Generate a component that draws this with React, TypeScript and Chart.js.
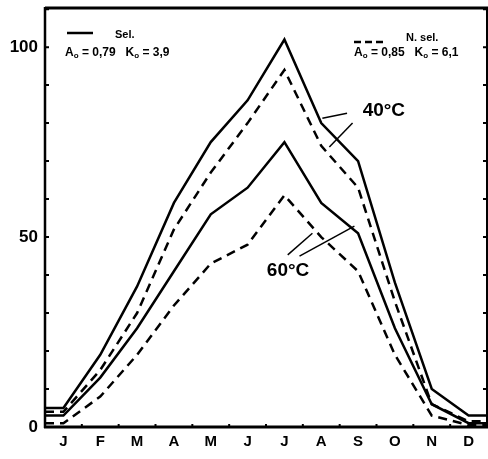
import React, { useEffect, useRef } from "react";
import { Chart, registerables } from "chart.js";
Chart.register(...registerables);

const months = ["J", "F", "M", "A", "M", "J", "J", "A", "S", "O", "N", "D"];
const sel40 = [5, 19, 37, 59, 75, 86, 102, 80, 70, 38, 10, 3];
const nsel40 = [4, 15, 30, 52, 67, 80, 94, 74, 63, 33, 6, 1.5];
const sel60 = [3, 13, 26, 41, 56, 63, 75, 59, 51, 26, 6, 1];
const nsel60 = [1, 8, 19, 32, 43, 48, 61, 50, 41, 19, 3, 0.5];
const yLabelValues = [0, 50, 100];
const yMinorStep = 10;
const yMax = 110.3;

// annotation anchors in data units [month-position, value]
const label40 = { text: "40°C", at: [9.2, 83.2] };
const leaders40 = [
  [[8.2, 82.6], [7.53, 81.3]],
  [[8.35, 80], [7.72, 73.7]],
];
const label60 = { text: "60°C", at: [6.6, 41] };
const leaders60 = [
  [[6.59, 45.3], [7.26, 51]],
  [[6.91, 45], [8.4, 52.9]],
];

const FONT = "'Liberation Sans', Arial, sans-serif";

function toPoints(vals: number[]) {
  return [
    { x: 0, y: vals[0] },
    ...vals.map((v, i) => ({ x: i + 0.5, y: v })),
    { x: 12, y: vals[vals.length - 1] },
  ];
}

const framePlugin = {
  id: "frame",
  afterDraw(chart: any) {
    const { ctx, chartArea: a, scales } = chart;
    const xs = scales.x;
    const ys = scales.y;
    ctx.save();
    ctx.strokeStyle = "#000";
    ctx.fillStyle = "#000";
    ctx.lineCap = "butt";
    // frame
    ctx.lineWidth = 3;
    ctx.beginPath();
    ctx.moveTo(a.left, a.top);
    ctx.lineTo(a.right + 2, a.top);
    ctx.moveTo(a.left - 1, a.bottom);
    ctx.lineTo(a.right + 2, a.bottom);
    ctx.stroke();
    ctx.lineWidth = 2.5;
    ctx.beginPath();
    ctx.moveTo(a.left, a.top - 1);
    ctx.lineTo(a.left, a.bottom + 1);
    ctx.stroke();
    ctx.lineWidth = 2;
    ctx.beginPath();
    ctx.moveTo(a.right, a.top);
    ctx.lineTo(a.right, a.bottom);
    ctx.stroke();
    // minor ticks
    ctx.lineWidth = 2;
    ctx.beginPath();
    for (let v = yMinorStep; v < yMax; v += yMinorStep) {
      const y = ys.getPixelForValue(v);
      ctx.moveTo(a.left, y);
      ctx.lineTo(a.left + 4, y);
      ctx.moveTo(a.right, y);
      ctx.lineTo(a.right - 4, y);
    }
    for (let m = 1; m < months.length; m++) {
      const x = xs.getPixelForValue(m);
      ctx.moveTo(x, a.bottom);
      ctx.lineTo(x, a.bottom - 3);
    }
    ctx.stroke();

    // legends
    ctx.textBaseline = "middle";
    ctx.textAlign = "left";
    const drawParam = (x: number, y: number, aVal: string, kVal: string) => {
      let cx = x;
      const part = (t: string, size: number, dy: number) => {
        ctx.font = `bold ${size}px ${FONT}`;
        ctx.fillText(t, cx, y + dy);
        cx += ctx.measureText(t).width;
      };
      part("A", 12, 0);
      part("o", 8, 3);
      part(" = " + aVal + "   K", 12, 0);
      part("o", 8, 3);
      part(" = " + kVal, 12, 0);
    };
    // left legend
    ctx.lineWidth = 2.5;
    ctx.beginPath();
    ctx.moveTo(67, 33);
    ctx.lineTo(93, 33);
    ctx.stroke();
    ctx.font = `bold 11px ${FONT}`;
    ctx.fillText("Sel.", 115, 35);
    drawParam(65, 53, "0,79", "3,9");
    // right legend
    ctx.setLineDash([7, 4]);
    ctx.beginPath();
    ctx.moveTo(354, 42);
    ctx.lineTo(383, 42);
    ctx.stroke();
    ctx.setLineDash([]);
    ctx.font = `bold 11px ${FONT}`;
    ctx.fillText("N. sel.", 406, 38);
    drawParam(354, 53, "0,85", "6,1");

    // annotations
    const px = (p: number[]) => [xs.getPixelForValue(p[0]), ys.getPixelForValue(p[1])];
    ctx.lineWidth = 1.5;
    const drawLeaders = (ls: number[][][]) => {
      for (const [p0, p1] of ls) {
        const [x0, y0] = px(p0);
        const [x1, y1] = px(p1);
        ctx.beginPath();
        ctx.moveTo(x0, y0);
        ctx.lineTo(x1, y1);
        ctx.stroke();
      }
    };
    drawLeaders(leaders40);
    drawLeaders(leaders60);
    ctx.font = `bold 19px ${FONT}`;
    ctx.textAlign = "center";
    const [lx4, ly4] = px(label40.at);
    ctx.fillText(label40.text, lx4, ly4);
    const [lx6, ly6] = px(label60.at);
    ctx.fillText(label60.text, lx6, ly6);
    ctx.restore();
  },
};

export default function App() {
  const ref = useRef<HTMLCanvasElement>(null);
  useEffect(() => {
    if (!ref.current) return;
    const ds = (vals: number[], dashed: boolean) => ({
      data: toPoints(vals),
      borderColor: "#000",
      borderWidth: 2.5,
      borderDash: dashed ? [9, 6] : [],
      pointRadius: 0,
      tension: 0,
      fill: false,
    });
    const chart = new Chart(ref.current, {
      type: "line",
      data: {
        datasets: [ds(sel40, false), ds(nsel40, true), ds(sel60, false), ds(nsel60, true)],
      },
      options: {
        animation: false,
        responsive: false,
        maintainAspectRatio: false,
        layout: { padding: { top: 8, right: 1, left: 0, bottom: 0 } },
        plugins: { legend: { display: false }, tooltip: { enabled: false } },
        scales: {
          x: {
            type: "linear",
            min: 0,
            max: 12,
            grid: { display: false, drawTicks: false },
            border: { display: false },
            afterBuildTicks: (s: any) => {
              s.ticks = months.map((_, i) => ({ value: i + 0.5 }));
            },
            ticks: {
              autoSkip: false,
              maxRotation: 0,
              color: "#000",
              padding: 6,
              font: { family: FONT, size: 15, weight: "bold" },
              callback: (v: any) => months[Math.floor(Number(v))],
            },
            afterFit: (s: any) => {
              s.height = 32;
              s.paddingLeft = 0;
              s.paddingRight = 0;
            },
          },
          y: {
            type: "linear",
            min: 0,
            max: yMax,
            grid: { display: false, drawTicks: false },
            border: { display: false },
            afterBuildTicks: (s: any) => {
              s.ticks = yLabelValues.map((v) => ({ value: v }));
            },
            ticks: {
              color: "#000",
              padding: 7,
              font: { family: FONT, size: 17, weight: "bold" },
            },
            afterFit: (s: any) => {
              s.width = 45;
              s.paddingTop = 0;
              s.paddingBottom = 0;
            },
          },
        },
      } as any,
      plugins: [framePlugin],
    });
    return () => chart.destroy();
  }, []);
  return (
    <div style={{ position: "fixed", left: 0, top: 0, width: 488, height: 459, background: "#fff" }}>
      <canvas ref={ref} width={488} height={459} />
    </div>
  );
}
